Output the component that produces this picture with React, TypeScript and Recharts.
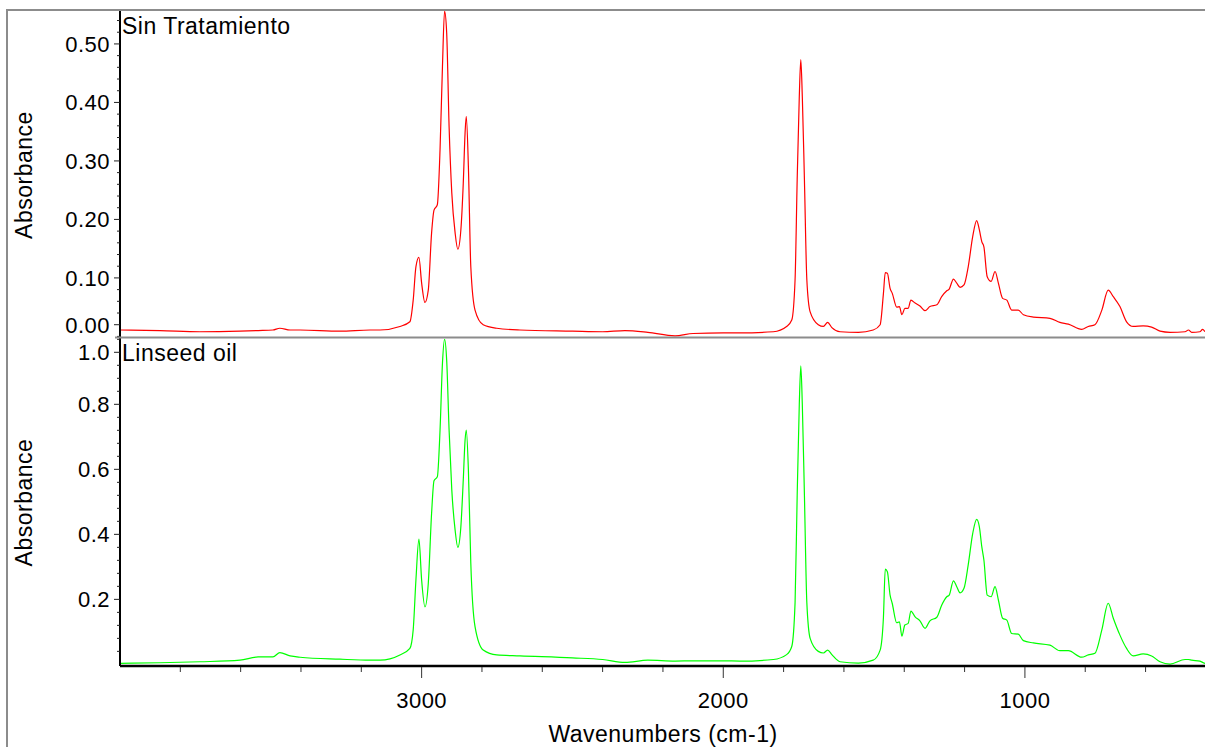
import React from 'react';
import { LineChart, Line, XAxis, YAxis } from 'recharts';

// wavenumber grid (cm-1)
const wavenumbers = [
  4000, 3867, 3735, 3602, 3542, 3493, 3470, 3436, 3403, 3271, 3171, 3138,
  3072, 3039, 3028, 3019, 3009, 3000, 2989, 2978, 2967, 2959, 2948, 2939, 2931, 2924,
  2917, 2909, 2900, 2889, 2880, 2870, 2862, 2856, 2852, 2845, 2837, 2823, 2796, 2751, 2674,
  2500, 2400, 2326, 2250, 2160, 2100, 2000, 1945,
  1834, 1790, 1773, 1762, 1755, 1748, 1743, 1738, 1731, 1723, 1712, 1685, 1668, 1654, 1640, 1613, 1552, 1503,
  1480, 1469, 1463, 1456, 1447, 1440, 1425, 1416, 1408, 1398, 1387, 1378, 1364, 1348, 1331,
  1315, 1292, 1276, 1259, 1251, 1237, 1226, 1215, 1202, 1188, 1173, 1160, 1151, 1143, 1136,
  1125, 1112, 1099, 1088, 1074, 1060, 1044, 1022, 1005, 972, 917, 884, 856,
  812, 790, 768, 745, 724, 707, 685, 663, 641, 608, 580, 552, 519, 469, 458, 447, 420, 411, 403,
];

const sinTratamiento = [
  0.011, 0.010, 0.008, 0.009, 0.010, 0.011, 0.014, 0.011, 0.011, 0.009, 0.011, 0.011,
  0.017, 0.025, 0.062, 0.119, 0.135, 0.091, 0.058, 0.079, 0.177, 0.216, 0.225, 0.319, 0.461, 0.556,
  0.519, 0.359, 0.245, 0.177, 0.149, 0.182, 0.262, 0.348, 0.376, 0.290, 0.119, 0.045, 0.020, 0.014, 0.011,
  0.009, 0.008, 0.010, 0.007, 0.001, 0.005, 0.006, 0.006,
  0.008, 0.017, 0.028, 0.097, 0.268, 0.410, 0.473, 0.410, 0.268, 0.097, 0.042, 0.020, 0.017, 0.024, 0.015, 0.008, 0.007, 0.011,
  0.020, 0.074, 0.109, 0.108, 0.082, 0.074, 0.050, 0.051, 0.037, 0.048, 0.048, 0.062, 0.057, 0.052, 0.044,
  0.051, 0.054, 0.068, 0.078, 0.081, 0.098, 0.091, 0.084, 0.088, 0.119, 0.171, 0.198, 0.182, 0.162, 0.153,
  0.102, 0.094, 0.111, 0.091, 0.065, 0.062, 0.045, 0.045, 0.037, 0.033, 0.031, 0.024, 0.021,
  0.012, 0.017, 0.020, 0.045, 0.079, 0.068, 0.051, 0.025, 0.017, 0.018, 0.016, 0.009, 0.007, 0.008, 0.011, 0.007, 0.008, 0.012, 0.008,
];

const linseedOil = [
  0.003, 0.005, 0.008, 0.013, 0.023, 0.023, 0.036, 0.026, 0.022, 0.016, 0.013, 0.013,
  0.029, 0.049, 0.106, 0.259, 0.385, 0.259, 0.177, 0.249, 0.465, 0.565, 0.577, 0.721, 0.926, 1.000,
  0.936, 0.721, 0.536, 0.413, 0.360, 0.423, 0.567, 0.690, 0.721, 0.598, 0.311, 0.116, 0.044, 0.029, 0.026,
  0.020, 0.015, 0.006, 0.013, 0.010, 0.011, 0.011, 0.010,
  0.015, 0.030, 0.055, 0.190, 0.520, 0.800, 0.918, 0.800, 0.520, 0.190, 0.080, 0.040, 0.035, 0.044, 0.030, 0.008, 0.004, 0.013,
  0.044, 0.146, 0.293, 0.285, 0.213, 0.188, 0.128, 0.131, 0.087, 0.121, 0.126, 0.164, 0.146, 0.134, 0.111,
  0.134, 0.145, 0.182, 0.208, 0.213, 0.257, 0.239, 0.220, 0.234, 0.306, 0.403, 0.446, 0.423, 0.362, 0.321,
  0.213, 0.208, 0.239, 0.198, 0.142, 0.136, 0.095, 0.093, 0.073, 0.066, 0.059, 0.042, 0.042,
  0.022, 0.029, 0.034, 0.106, 0.188, 0.142, 0.090, 0.049, 0.026, 0.032, 0.026, 0.008, 0.001, 0.015, 0.015, 0.013, 0.010, 0.006, 0.003,
];

// axis ticks as they appear on the picture
const xMajorTicks = [3000, 2000, 1000];
const xTicks = Array.from({ length: 17 }, (_, i) => 3800 - i * 200);
const topMajorTicks = [0.02, 0.1, 0.2, 0.3, 0.4, 0.5];
const topTickLabels = ['0.00', '0.10', '0.20', '0.30', '0.40', '0.50'];
const topTicks = Array.from({ length: 28 }, (_, i) => (i * 2) / 100);
const bottomMajorTicks = [0.2, 0.4, 0.6, 0.8, 0.96];
const bottomTickLabels = ['0.2', '0.4', '0.6', '0.8', '1.0'];
const bottomTicks = Array.from({ length: 25 }, (_, i) => ((i + 1) * 4) / 100);

const FONT = '"Liberation Sans", Arial, sans-serif';
const TICK_FS = 22;
const LABEL_FS = 23;

const data = wavenumbers.map((wn, i) => ({ wn, sin: sinTratamiento[i], linseed: linseedOil[i] }));

function makeYTick(majors: number[], labels: string[]) {
  return function YTick(props: any) {
    const { x, y, payload } = props;
    const i = majors.findIndex((v) => Math.abs(v - payload.value) < 1e-6);
    const len = i >= 0 ? 6 : 3;
    return (
      <g>
        <line x1={x - len} x2={x} y1={y} y2={y} stroke="#222" strokeWidth={1} />
        {i >= 0 && (
          <text x={x - 10} y={y} dy="0.355em" textAnchor="end" fontFamily={FONT} fontSize={TICK_FS} letterSpacing={0.5} fill="#000">
            {labels[i]}
          </text>
        )}
      </g>
    );
  };
}

function XTick(props: any) {
  const { x, y, payload } = props;
  const major = xMajorTicks.includes(payload.value);
  const len = major ? 12 : 6;
  return (
    <g>
      <line x1={x} x2={x} y1={y + 1} y2={y + len} stroke="#333" strokeWidth={1} />
      {major && (
        <text x={x} y={y + 42} textAnchor="middle" fontFamily={FONT} fontSize={TICK_FS} letterSpacing={0.5} fill="#000">
          {payload.value}
        </text>
      )}
    </g>
  );
}

const TopTick = makeYTick(topMajorTicks, topTickLabels);
const BottomTick = makeYTick(bottomMajorTicks, bottomTickLabels);

const labelProps = { fontFamily: FONT, fontSize: LABEL_FS, letterSpacing: 0.5, fill: '#000' };

export default function App() {
  return (
    <div style={{ position: 'absolute', left: 0, top: 0, width: 1205, height: 747, overflow: 'hidden', background: '#fff' }}>
      <div style={{ position: 'absolute', left: 0, top: 0 }}>
        <LineChart width={1205} height={337} data={data} margin={{ top: 10, right: 0, bottom: 0, left: 0 }}>
          <XAxis dataKey="wn" type="number" domain={[403, 4000]} reversed allowDataOverflow hide />
          <YAxis
            type="number"
            domain={[-0.001, 0.558]}
            allowDataOverflow
            width={120}
            ticks={topTicks}
            interval={0}
            tickSize={0}
            tickMargin={0}
            tickLine={false}
            tick={<TopTick />}
            axisLine={{ stroke: '#000', strokeWidth: 2 }}
          />
          <Line type="monotone" dataKey="sin" stroke="#ff0000" strokeWidth={1.2} dot={false} isAnimationActive={false} />
        </LineChart>
      </div>
      <div style={{ position: 'absolute', left: 0, top: 338 }}>
        <LineChart width={1205} height={409} data={data} margin={{ top: 0, right: 0, bottom: 0, left: 0 }}>
          <XAxis
            dataKey="wn"
            type="number"
            domain={[403, 4000]}
            reversed
            allowDataOverflow
            height={81}
            ticks={xTicks}
            interval={0}
            tickSize={0}
            tickMargin={0}
            tickLine={false}
            tick={<XTick />}
            axisLine={{ stroke: '#000', strokeWidth: 2.5 }}
          />
          <YAxis
            type="number"
            domain={[-0.005, 1.004]}
            allowDataOverflow
            width={120}
            ticks={bottomTicks}
            interval={0}
            tickSize={0}
            tickMargin={0}
            tickLine={false}
            tick={<BottomTick />}
            axisLine={{ stroke: '#000', strokeWidth: 2 }}
          />
          <Line type="monotone" dataKey="linseed" stroke="#00ff00" strokeWidth={1.2} dot={false} isAnimationActive={false} />
        </LineChart>
      </div>
      <svg width={1205} height={747} style={{ position: 'absolute', left: 0, top: 0, pointerEvents: 'none' }}>
        <line x1={7} x2={7} y1={9} y2={747} stroke="#8c8c8c" strokeWidth={2} />
        <line x1={6} x2={1205} y1={10} y2={10} stroke="#8c8c8c" strokeWidth={2} />
        <line x1={115} x2={1205} y1={337.5} y2={337.5} stroke="#8c8c8c" strokeWidth={2} />
        <text x={122} y={34} {...labelProps}>Sin Tratamiento</text>
        <text x={122} y={361} {...labelProps}>Linseed oil</text>
        <text transform="translate(23.5,175) rotate(-90)" dy="0.355em" textAnchor="middle" {...labelProps}>Absorbance</text>
        <text transform="translate(23.5,502.5) rotate(-90)" dy="0.355em" textAnchor="middle" {...labelProps}>Absorbance</text>
        <text x={663} y={742} textAnchor="middle" {...labelProps}>Wavenumbers (cm-1)</text>
      </svg>
    </div>
  );
}
